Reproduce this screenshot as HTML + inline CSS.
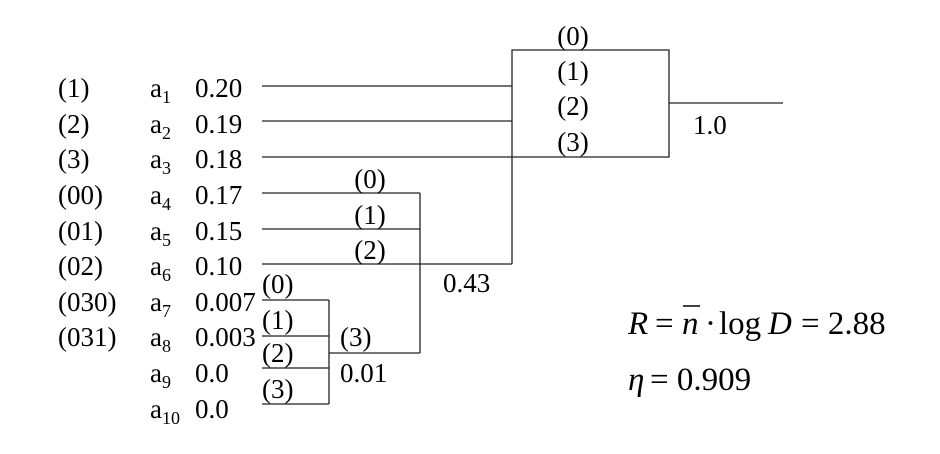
<!DOCTYPE html>
<html><head><style>body{margin:0;background:#fff}svg{display:block}text{font-family:"Liberation Serif","DejaVu Serif",serif}</style></head><body>
<svg width="940" height="454" viewBox="0 0 940 454" font-size="27" fill="#000">
<g stroke="#222" stroke-width="1.3" fill="none">
<line x1="262" y1="86" x2="512" y2="86"/><line x1="262" y1="121" x2="512" y2="121"/><line x1="262" y1="157" x2="512" y2="157"/>
<polyline points="512,264 512,50 669,50 669,157 512,157"/>
<line x1="669" y1="103" x2="783" y2="103"/>
<line x1="262" y1="193" x2="420" y2="193"/><line x1="262" y1="229" x2="420" y2="229"/><line x1="262" y1="264" x2="512" y2="264"/>
<line x1="420" y1="193" x2="420" y2="353"/>
<line x1="262" y1="300" x2="329" y2="300"/><line x1="262" y1="336" x2="329" y2="336"/><line x1="262" y1="368" x2="329" y2="368"/><line x1="262" y1="404" x2="329" y2="404"/>
<line x1="329" y1="300" x2="329" y2="404"/><line x1="329" y1="353" x2="420" y2="353"/>
</g>
<g text-anchor="middle">
<text x="573" y="45">(0)</text><text x="573" y="80">(1)</text><text x="573" y="115">(2)</text><text x="573" y="151">(3)</text>
<text x="370" y="188">(0)</text><text x="370" y="224">(1)</text><text x="370" y="259">(2)</text>
</g>
<text x="693" y="134">1.0</text>
<text x="443" y="292">0.43</text>
<text x="262" y="293">(0)</text><text x="262" y="329">(1)</text><text x="262" y="362">(2)</text><text x="262" y="398">(3)</text>
<text x="340" y="346">(3)</text><text x="340" y="382">0.01</text>
<g>
<text x="58" y="97">(1)</text><text x="58" y="133">(2)</text><text x="58" y="168">(3)</text><text x="58" y="204">(00)</text><text x="58" y="240">(01)</text><text x="58" y="275">(02)</text><text x="58" y="311">(030)</text><text x="58" y="346">(031)</text>
<text x="150" y="97">a<tspan font-size="18" dy="6">1</tspan></text>
<text x="150" y="133">a<tspan font-size="18" dy="6">2</tspan></text>
<text x="150" y="168">a<tspan font-size="18" dy="6">3</tspan></text>
<text x="150" y="204">a<tspan font-size="18" dy="6">4</tspan></text>
<text x="150" y="240">a<tspan font-size="18" dy="6">5</tspan></text>
<text x="150" y="275">a<tspan font-size="18" dy="6">6</tspan></text>
<text x="150" y="311">a<tspan font-size="18" dy="6">7</tspan></text>
<text x="150" y="346">a<tspan font-size="18" dy="6">8</tspan></text>
<text x="150" y="382">a<tspan font-size="18" dy="6">9</tspan></text>
<text x="150" y="418">a<tspan font-size="18" dy="6">10</tspan></text>
<text x="195" y="97">0.20</text><text x="195" y="133">0.19</text><text x="195" y="168">0.18</text><text x="195" y="204">0.17</text><text x="195" y="240">0.15</text><text x="195" y="275">0.10</text><text x="195" y="311">0.007</text><text x="195" y="346">0.003</text><text x="195" y="382">0.0</text><text x="195" y="418">0.0</text>
</g>
<g font-size="33">
<text x="628" y="334" font-style="italic">R</text>
<text x="655" y="334">=</text>
<text x="682" y="334" font-style="italic">n</text>
<line x1="683" y1="306" x2="700" y2="306" stroke="#000" stroke-width="1.5"/>
<text x="705" y="334">·</text>
<text x="719" y="334">log</text>
<text x="768" y="334" font-style="italic">D</text>
<text x="801" y="334">= 2.88</text>
<text x="628" y="390" font-style="italic">η</text>
<text x="650" y="390">= 0.909</text>
</g>
</svg>
</body></html>
